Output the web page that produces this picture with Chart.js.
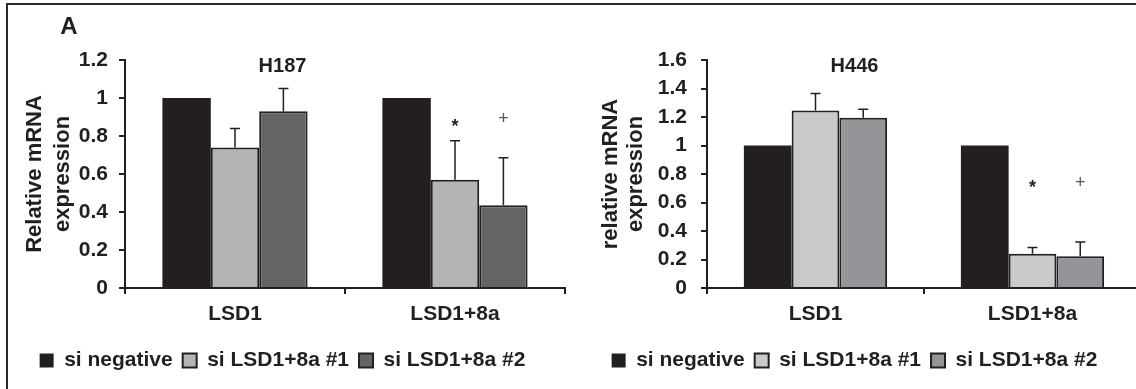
<!DOCTYPE html>
<html>
<head>
<meta charset="utf-8">
<script src="https://cdn.jsdelivr.net/npm/chart.js@4.4.1/dist/chart.umd.min.js"></script>
<style>
    body { margin: 0; background: #fff; overflow: hidden; }
    #frame { position: absolute; left: 6px; top: 3px; width: 1200px; height: 420px;
             border-top: 2px solid #2a2a2a; border-left: 2px solid #2a2a2a; }
    #h187 { position: absolute; left: 0; top: 0; }
    #h446 { position: absolute; left: 568px; top: 0; }
</style>
</head>
<body>
<div id="frame"></div>
<canvas id="h187" width="568" height="389"></canvas>
<canvas id="h446" width="604" height="389"></canvas>
<script>
// categories and series names
var categories = ['LSD1', 'LSD1+8a'];
var seriesNames = ['si negative', 'si LSD1+8a #1', 'si LSD1+8a #2'];

// H187 values (relative mRNA expression) and upper error bars
var h187Neg = [1, 1];
var h187Si1 = [0.74, 0.57];
var h187Si2 = [0.93, 0.435];
var h187Err1 = [0.10, 0.205];
var h187Err2 = [0.12, 0.25];
var h187Mark1 = ['', '*'];
var h187Mark2 = ['', '+'];
var h187MarkY1 = [null, 0.87];
var h187MarkY2 = [null, 0.89];
var h187Ticks = [0, 0.2, 0.4, 0.6, 0.8, 1, 1.2];

// H446
var h446Neg = [1, 1];
var h446Si1 = [1.245, 0.24];
var h446Si2 = [1.195, 0.222];
var h446Err1 = [0.12, 0.045];
var h446Err2 = [0.06, 0.1];
var h446Mark1 = ['', '*'];
var h446Mark2 = ['', '+'];
var h446MarkY1 = [null, 0.73];
var h446MarkY2 = [null, 0.74];
var h446Ticks = [0, 0.2, 0.4, 0.6, 0.8, 1, 1.2, 1.4, 1.6];

var ink = '#231f20';
Chart.defaults.font.family = "'Liberation Sans', Arial, sans-serif";
Chart.defaults.color = ink;

// error bars + significance marks, drawn from the bar elements and y scale
var errorBarPlugin = {
    id: 'errorBars',
    afterDatasetsDraw(chart) {
        var ctx = chart.ctx;
        var y = chart.scales.y;
        chart.data.datasets.forEach(function(ds, i) {
            var meta = chart.getDatasetMeta(i);
            meta.data.forEach(function(bar, j) {
                var err = ds.errors ? ds.errors[j] : 0;
                if (err) {
                    var top = y.getPixelForValue(ds.data[j] + err);
                    ctx.save();
                    ctx.strokeStyle = ink;
                    ctx.lineWidth = 1.5;
                    ctx.beginPath();
                    ctx.moveTo(bar.x, bar.y);
                    ctx.lineTo(bar.x, top);
                    ctx.moveTo(bar.x - 5, top);
                    ctx.lineTo(bar.x + 5, top);
                    ctx.stroke();
                    ctx.restore();
                }
                if (ds.marks && ds.marks[j]) {
                    ctx.save();
                    ctx.fillStyle = ds.marks[j] == '+' ? '#555' : ink;
                    ctx.font = (ds.marks[j] == '*' ? 'bold 18px' : '18px') + " 'Liberation Sans', Arial";
                    ctx.textAlign = 'center';
                    ctx.textBaseline = 'middle';
                    ctx.fillText(ds.marks[j], bar.x, y.getPixelForValue(ds.markY[j]) + (ds.marks[j] == '*' ? 4 : 0));
                    ctx.restore();
                }
            });
        });
    }
};

var panelLabel = {
    id: 'panelLabel',
    afterDraw(chart) {
        if (chart.canvas.id != 'h187') return;
        var ctx = chart.ctx;
        ctx.save();
        ctx.fillStyle = ink;
        ctx.font = "bold 24px 'Liberation Sans', Arial";
        ctx.textAlign = 'center';
        ctx.textBaseline = 'middle';
        ctx.fillText('A', 69, 27);
        ctx.restore();
    }
};

function makeChart(id, opts) {
    var ctx = document.getElementById(id).getContext('2d');
    return new Chart(ctx, {
        type: 'bar',
        data: {
            labels: categories,
            datasets: [{
                label: seriesNames[0],
                data: opts.neg,
                backgroundColor: ink,
                borderWidth: 0
            }, {
                label: seriesNames[1],
                data: opts.si1,
                errors: opts.err1,
                marks: opts.mark1,
                markY: opts.markY1,
                backgroundColor: opts.light,
                borderColor: ink,
                borderWidth: 2
            }, {
                label: seriesNames[2],
                data: opts.si2,
                errors: opts.err2,
                marks: opts.mark2,
                markY: opts.markY2,
                backgroundColor: opts.dark,
                borderColor: ink,
                borderWidth: 2
            }]
        },
        options: {
            responsive: false,
            animation: false,
            categoryPercentage: 0.66,
            barPercentage: 1,
            layout: { padding: { top: 60, right: opts.padRight, bottom: 8, left: 0 } },
            plugins: {
                title: {
                    display: true,
                    text: opts.title,
                    font: { size: 20, weight: 'bold', lineHeight: 1.2 },
                    color: ink,
                    padding: { top: -6, bottom: -18 }
                },
                legend: {
                    position: 'bottom',
                    labels: {
                        boxWidth: 14,
                        boxHeight: 14,
                        padding: 10,
                        color: ink,
                        font: { size: 21, weight: 'bold' }
                    }
                },
                tooltip: { enabled: false }
            },
            scales: {
                x: {
                    grid: { drawOnChartArea: false, drawTicks: true, tickLength: 6, color: ink, lineWidth: 2 },
                    border: { display: true, color: ink, width: 2 },
                    ticks: { padding: 8, color: ink, font: { size: 21, weight: 'bold' } },
                    afterFit: function(scale) { scale.height = 52; }
                },
                y: {
                    min: 0,
                    max: opts.ticks[opts.ticks.length - 1],
                    afterBuildTicks: function(scale) {
                        scale.ticks = opts.ticks.map(function(v) { return { value: v }; });
                    },
                    grid: { drawOnChartArea: false, drawTicks: true, tickLength: 6, color: ink, lineWidth: 2 },
                    border: { display: true, color: ink, width: 2 },
                    ticks: {
                        padding: opts.tickPad,
                        color: ink,
                        font: { size: 21, weight: 'bold' },
                        callback: function(v) { return String(v); }
                    },
                    title: {
                        display: true,
                        text: opts.yTitle,
                        color: ink,
                        font: { size: 22, weight: 'bold', lineHeight: opts.titleLine },
                        padding: { top: opts.titlePad, bottom: 0 }
                    },
                    afterFit: function(scale) { scale.width = opts.axisX; }
                }
            }
        },
        plugins: [errorBarPlugin, panelLabel]
    });
}

var h187Chart = makeChart('h187', {
    title: 'H187',
    yTitle: ['Relative mRNA', 'expression'],
    neg: h187Neg, si1: h187Si1, si2: h187Si2,
    err1: h187Err1, err2: h187Err2,
    mark1: h187Mark1, mark2: h187Mark2,
    markY1: h187MarkY1, markY2: h187MarkY2,
    ticks: h187Ticks,
    light: '#b3b4b6', dark: '#646466',
    axisX: 125, padRight: 3, tickPad: 11, titlePad: 21, titleLine: 1.27
});

var h446Chart = makeChart('h446', {
    title: 'H446',
    yTitle: ['relative mRNA', 'expression'],
    neg: h446Neg, si1: h446Si1, si2: h446Si2,
    err1: h446Err1, err2: h446Err2,
    mark1: h446Mark1, mark2: h446Mark2,
    markY1: h446MarkY1, markY2: h446MarkY2,
    ticks: h446Ticks,
    light: '#c9cacc', dark: '#939598',
    axisX: 139, padRight: 31, tickPad: 14, titlePad: 30, titleLine: 1.15
});
</script>
</body>
</html>
